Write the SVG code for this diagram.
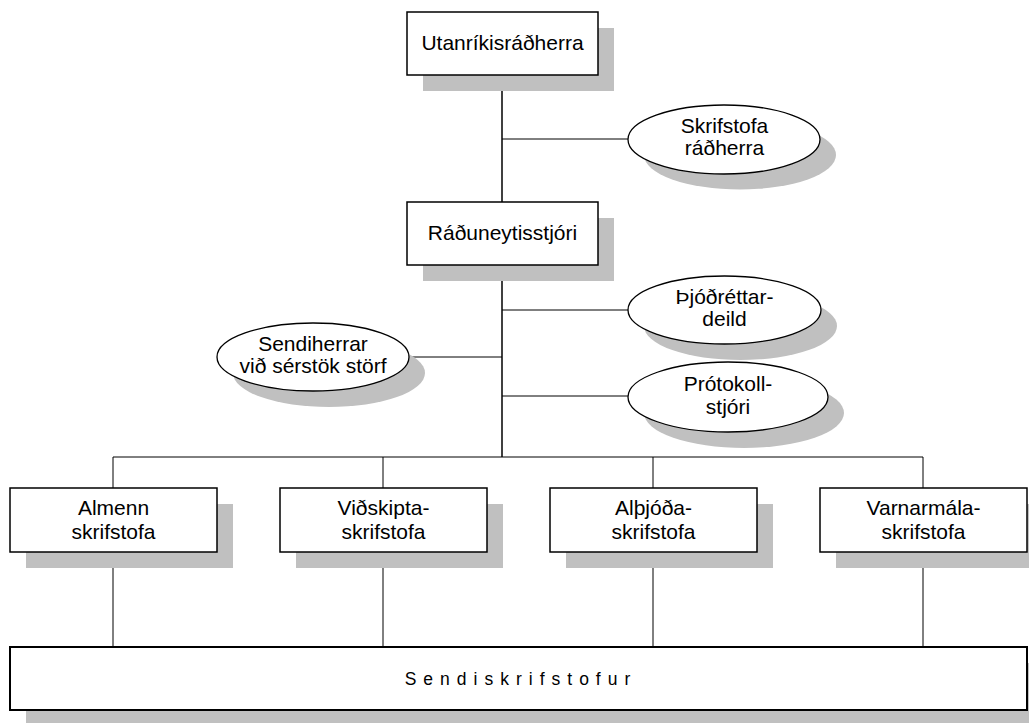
<svg xmlns="http://www.w3.org/2000/svg" width="1029" height="723" viewBox="0 0 1029 723">
<style>
.sh{fill:#c0c0c0;stroke:none}
.bx{fill:#fff;stroke:#000;stroke-width:1.5}
.el{fill:#fff;stroke:#000;stroke-width:1.3}
.t{font-family:"Liberation Sans",Arial,sans-serif;font-size:21px;fill:#000;text-anchor:middle}
.ln{stroke:#000;stroke-width:1;fill:none}
.tr{stroke:#000;stroke-width:1.5;fill:none}
</style>
<rect width="1029" height="723" fill="#fff"/>
<g id="connectors">
<line class="tr" x1="502" y1="75" x2="502" y2="202"/>
<line class="tr" x1="502" y1="265" x2="502" y2="457"/>
<line class="ln" x1="502" y1="139" x2="628" y2="139"/>
<line class="ln" x1="502" y1="310" x2="628" y2="310"/>
<line class="ln" x1="409" y1="357" x2="502" y2="357"/>
<line class="ln" x1="502" y1="396" x2="628" y2="396"/>
<line class="ln" x1="113" y1="457" x2="923" y2="457"/>
<line class="ln" x1="113" y1="457" x2="113" y2="488"/>
<line class="ln" x1="383" y1="457" x2="383" y2="488"/>
<line class="ln" x1="653" y1="457" x2="653" y2="488"/>
<line class="ln" x1="923" y1="457" x2="923" y2="488"/>
<line class="ln" x1="113" y1="552" x2="113" y2="647"/>
<line class="ln" x1="383" y1="552" x2="383" y2="647"/>
<line class="ln" x1="653" y1="552" x2="653" y2="647"/>
<line class="ln" x1="923" y1="552" x2="923" y2="647"/>
</g>
<g id="utanrikisradherra">
<rect class="sh" x="423" y="28" width="191" height="63"/>
<rect class="bx" x="407" y="12" width="191" height="63"/>
<text class="t" x="502.5" y="50">Utanríkisráðherra</text>
</g>
<g id="skrifstofa-radherra">
<ellipse class="sh" cx="740" cy="155" rx="96" ry="34.5"/>
<ellipse class="el" cx="724" cy="139.5" rx="96" ry="34.5"/>
<text class="t" x="724.5" y="133">Skrifstofa</text>
<text class="t" x="724.5" y="155">ráðherra</text>
</g>
<g id="raduneytisstjori">
<rect class="sh" x="423" y="218" width="191" height="63"/>
<rect class="bx" x="407" y="202" width="191" height="63"/>
<text class="t" x="502.5" y="240">Ráðuneytisstjóri</text>
</g>
<g id="thjodrettardeild">
<ellipse class="sh" cx="740.5" cy="326" rx="96.5" ry="34"/>
<ellipse class="el" cx="724.5" cy="310" rx="96.5" ry="34"/>
<text class="t" x="724.5" y="304">Þjóðréttar-</text>
<text class="t" x="724.5" y="326">deild</text>
</g>
<g id="sendiherrar">
<ellipse class="sh" cx="329" cy="373" rx="96" ry="34"/>
<ellipse class="el" cx="313" cy="357" rx="96" ry="34"/>
<text class="t" x="313" y="351">Sendiherrar</text>
<text class="t" x="313" y="373">við sérstök störf</text>
</g>
<g id="protokollstjori">
<ellipse class="sh" cx="744" cy="413" rx="100" ry="35"/>
<ellipse class="el" cx="728" cy="397" rx="100" ry="35"/>
<text class="t" x="728" y="391">Prótokoll-</text>
<text class="t" x="728" y="414">stjóri</text>
</g>
<g id="almenn">
<rect class="sh" x="26" y="504" width="207" height="64"/>
<rect class="bx" x="10" y="488" width="207" height="64"/>
<text class="t" x="113.5" y="515">Almenn</text>
<text class="t" x="113.5" y="539">skrifstofa</text>
</g>
<g id="vidskipta">
<rect class="sh" x="296" y="504" width="207" height="64"/>
<rect class="bx" x="280" y="488" width="207" height="64"/>
<text class="t" x="383.5" y="515">Viðskipta-</text>
<text class="t" x="383.5" y="539">skrifstofa</text>
</g>
<g id="althjoda">
<rect class="sh" x="566" y="504" width="207" height="64"/>
<rect class="bx" x="550" y="488" width="207" height="64"/>
<text class="t" x="653.5" y="515">Alþjóða-</text>
<text class="t" x="653.5" y="539">skrifstofa</text>
</g>
<g id="varnarmala">
<rect class="sh" x="836" y="504" width="207" height="64"/>
<rect class="bx" x="820" y="488" width="207" height="64"/>
<text class="t" x="923.5" y="515">Varnarmála-</text>
<text class="t" x="923.5" y="539">skrifstofa</text>
</g>
<g id="sendiskrifstofur">
<rect class="sh" x="26" y="663" width="1017" height="63"/>
<rect class="bx" x="10" y="647" width="1017" height="63" style="stroke-width:2"/>
<text class="t" x="521" y="685" style="font-size:17.5px;letter-spacing:7px">Sendiskrifstofur</text>
</g>
</svg>
